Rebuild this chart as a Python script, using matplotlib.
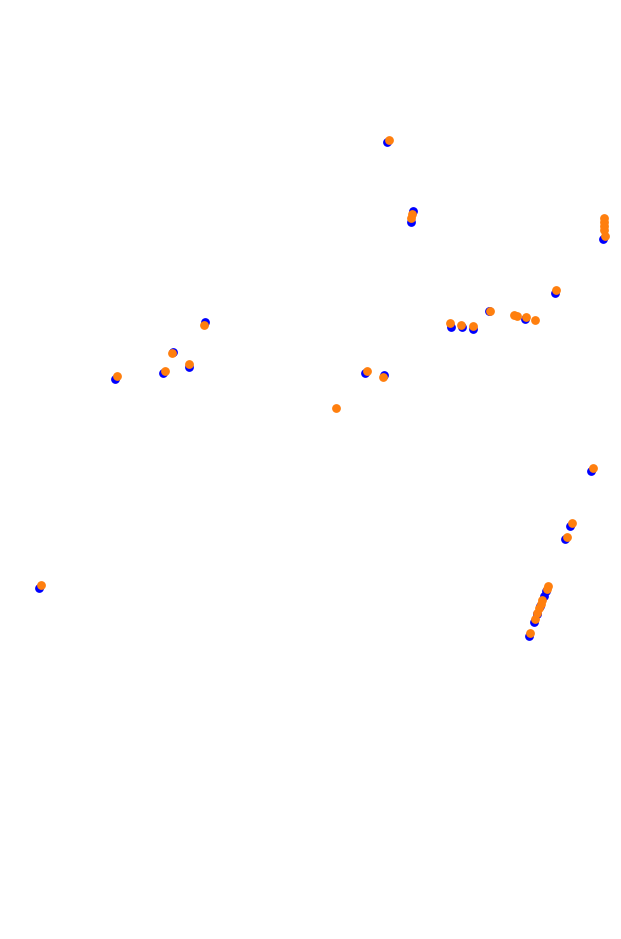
import matplotlib
matplotlib.use("Agg")
import matplotlib.pyplot as plt

# posiciones de la serie azul (x, y en coordenadas del mapa)
azul_x = [387, 413, 411, 603, 555, 451, 462, 473, 489, 525, 205, 173, 189, 163, 115,
          365, 384, 591, 570, 565, 546, 544, 540, 537, 534, 529, 39]
azul_y = [142, 211, 222, 239, 293, 327, 327, 329, 311, 319, 322, 352, 367, 373, 379,
          373, 375, 471, 526, 539, 591, 596, 606, 614, 622, 636, 588]

# posiciones de la serie naranja
naranja_x = [389, 412, 411, 604, 604, 604, 604, 605, 556, 450, 461, 473, 490, 514, 517,
             526, 535, 204, 172, 189, 165, 117, 367, 383, 336, 593, 572, 567, 548, 547,
             542, 541, 539, 537, 535, 530, 41]
naranja_y = [140, 214, 218, 218, 222, 226, 230, 236, 290, 323, 325, 326, 311, 315, 316,
             317, 320, 325, 353, 364, 371, 376, 371, 377, 408, 468, 523, 537, 586, 589,
             600, 604, 608, 613, 619, 633, 585]

fig = plt.figure(figsize=(6.21, 9.39), dpi=100)
ax = fig.add_axes([0, 0, 1, 1])
ax.scatter(azul_x, azul_y, s=40, color="#0000ff", linewidths=0)
ax.scatter(naranja_x, naranja_y, s=40, color="#ff7f0e", linewidths=0)
ax.set_xlim(0, 621)
ax.set_ylim(939, 0)
ax.axis("off")
fig.savefig("out.png", dpi=100)
